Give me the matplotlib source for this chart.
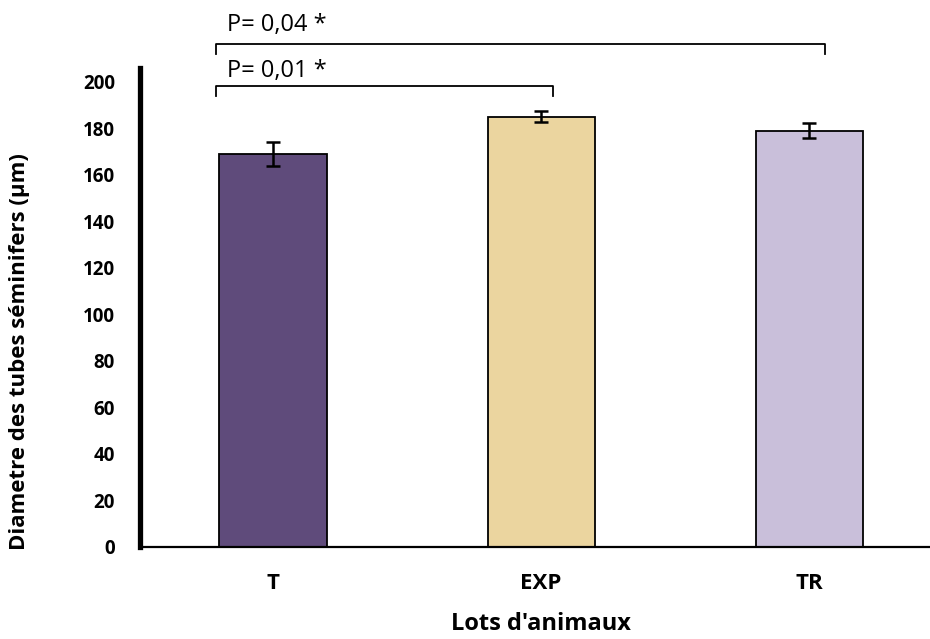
import matplotlib
matplotlib.use("Agg")
import matplotlib.pyplot as plt

categories = ["T", "EXP", "TR"]
values = [169, 185, 179]
errors = [5.2, 2.2, 3.4]
colors = ["#5F4B7B", "#EBD59F", "#C9BFDA"]
yticks = [0, 20, 40, 60, 80, 100, 120, 140, 160, 180, 200]
sig_labels = ["P= 0,01 *", "P= 0,04 *"]

plt.rcParams['font.family'] = ["Open Sans", 'DejaVu Sans']

fig = plt.figure(figsize=(9.3, 6.39), dpi=100)
ax = fig.add_axes([0.1505, 0.144, 0.8495, 0.75])

x = list(range(len(categories)))
ax.bar(x, values, width=0.4, color=colors, edgecolor="black", linewidth=1.3, zorder=2)
ax.errorbar(x, values, yerr=errors, fmt="none", ecolor="black", elinewidth=1.8,
            capsize=5, capthick=1.8, zorder=3)

ax.set_xlim(-0.496, 2.45)
ax.set_ylim(0, 206)
ax.set_yticks(yticks)
ax.set_yticklabels([str(v) for v in yticks], fontsize=13.5, fontweight="bold")
ax.set_xticks(x)
ax.set_xticklabels(categories, fontsize=16, fontweight="bold")
ax.tick_params(axis="both", length=0)
ax.tick_params(axis="y", pad=18)
ax.tick_params(axis="x", pad=19)

for s in ["top", "right"]:
    ax.spines[s].set_visible(False)
ax.spines["left"].set_linewidth(3.8)
ax.spines["bottom"].set_linewidth(1.6)

ax.set_xlabel("Lots d'animaux", fontsize=17, fontweight="bold")
ax.xaxis.set_label_coords(0.508, -0.135)
ax.set_ylabel("Diametre des tubes séminifers (µm)", fontsize=16, fontweight="bold")
ax.yaxis.set_label_coords(-0.139, 0.407)

# significance brackets
def bracket(x0, x1, y, drop, label, ty):
    ax.plot([x0, x0, x1, x1], [y - drop, y, y, y - drop], color="black", lw=1.3,
            clip_on=False, zorder=4)
    ax.text(x0 + 0.04, ty, label, fontsize=17, ha="left", va="center", clip_on=False)

bracket(-0.213, 1.045, 198.3, 4.3, sig_labels[0], 204.5)
bracket(-0.213, 2.06, 216.3, 4.3, sig_labels[1], 224.5)

fig.savefig("out.png", dpi=100)
